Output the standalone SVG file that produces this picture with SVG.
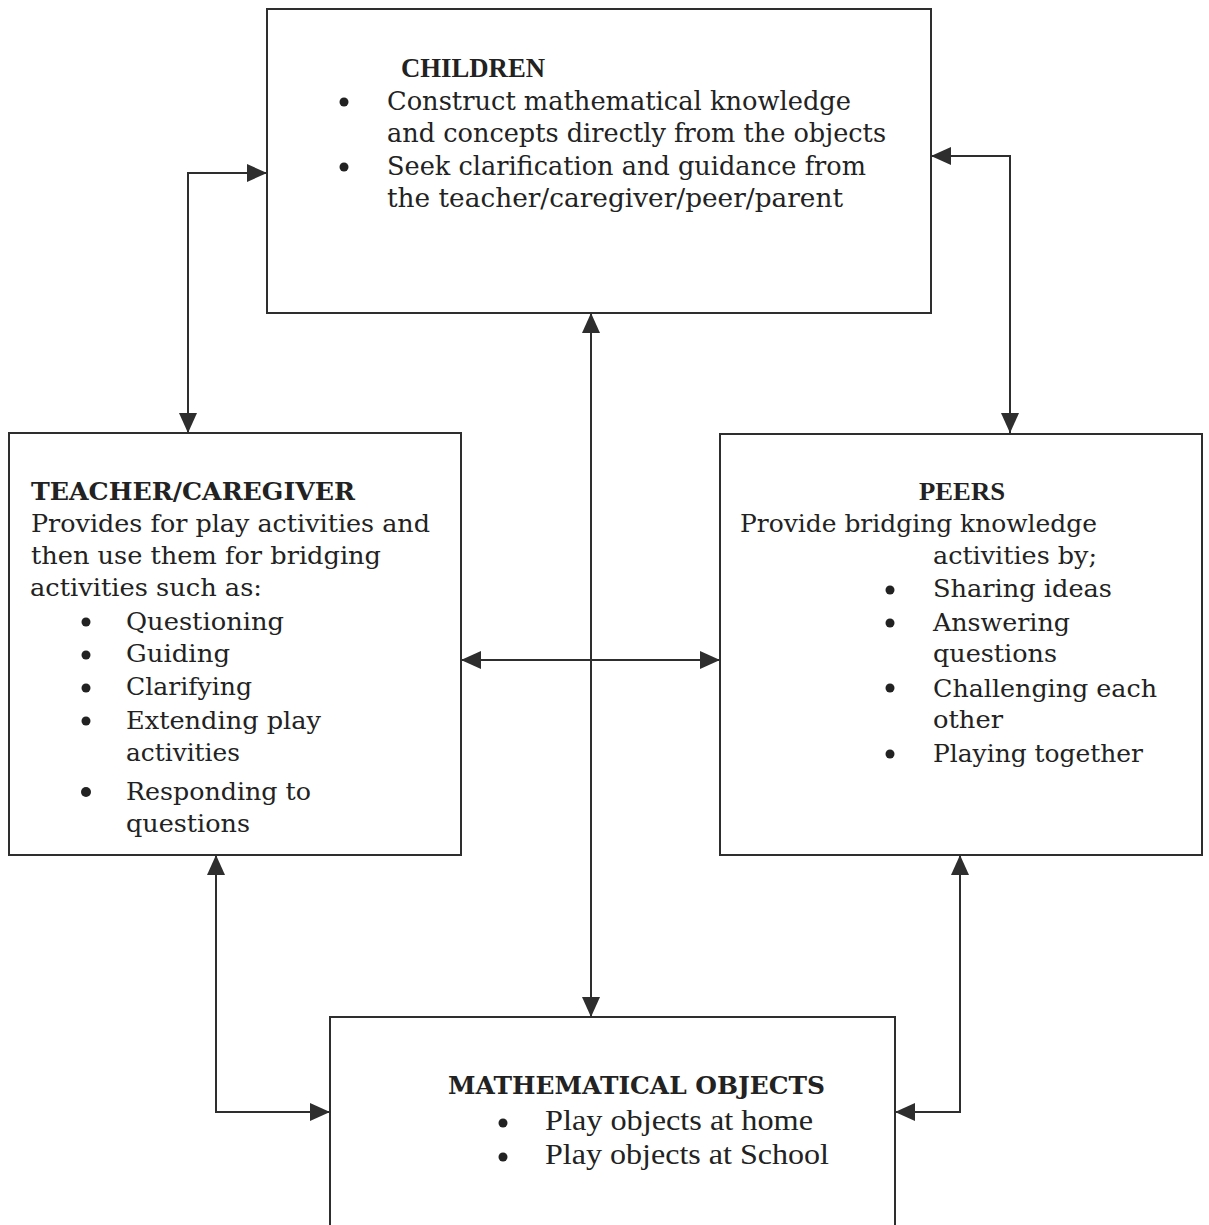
<svg xmlns="http://www.w3.org/2000/svg" width="1209" height="1225" viewBox="0 0 1209 1225">
<style>
.box{fill:#ffffff;stroke:#2e2e2e;stroke-width:2}
.con{fill:none;stroke:#2e2e2e;stroke-width:2}
.h{font-family:"DejaVu Serif","Liberation Serif",serif;font-weight:bold;fill:#222}
.ht{font-family:"Liberation Serif",serif;font-weight:bold;fill:#222}
.t{font-family:"DejaVu Serif","Liberation Serif",serif;fill:#222}
.c{font-size:26.5px}
.s{font-size:24.5px}
.m{font-family:"Liberation Serif",serif;font-size:29px;fill:#222}
.b{fill:#222}
</style>
<defs>
<marker id="ah" markerUnits="userSpaceOnUse" markerWidth="22" markerHeight="20" refX="20" refY="10" orient="auto-start-reverse" viewBox="0 0 22 20">
<path d="M0,1 L20,10 L0,19 z" fill="#2e2e2e"/>
</marker>
</defs>
<rect width="1209" height="1225" fill="#ffffff"/>
<g id="connectors">
<path class="con" d="M267,173 H188 V433" marker-start="url(#ah)" marker-end="url(#ah)"/>
<path class="con" d="M931,156 H1010 V433" marker-start="url(#ah)" marker-end="url(#ah)"/>
<path class="con" d="M591,313 V1017" marker-start="url(#ah)" marker-end="url(#ah)"/>
<path class="con" d="M461,660 H720" marker-start="url(#ah)" marker-end="url(#ah)"/>
<path class="con" d="M216,855 V1112 H330" marker-start="url(#ah)" marker-end="url(#ah)"/>
<path class="con" d="M960,855 V1112 H895" marker-start="url(#ah)" marker-end="url(#ah)"/>
</g>
<g id="children">
<rect class="box" x="267" y="9" width="664" height="304"/>
<text class="ht" x="401" y="77" font-size="27" textLength="144" lengthAdjust="spacingAndGlyphs">CHILDREN</text>
<circle class="b" cx="344" cy="102" r="4.5"/>
<circle class="b" cx="344" cy="167" r="4.5"/>
<text class="t c" x="387" y="110" textLength="464" lengthAdjust="spacingAndGlyphs">Construct mathematical knowledge</text>
<text class="t c" x="387" y="142" textLength="499" lengthAdjust="spacingAndGlyphs">and concepts directly from the objects</text>
<text class="t c" x="387" y="175" textLength="479" lengthAdjust="spacingAndGlyphs">Seek clarification and guidance from</text>
<text class="t c" x="387" y="207" textLength="456" lengthAdjust="spacingAndGlyphs">the teacher/caregiver/peer/parent</text>
</g>
<g id="teacher">
<rect class="box" x="9" y="433" width="452" height="422"/>
<text class="h" x="31" y="500" font-size="24" textLength="324" lengthAdjust="spacingAndGlyphs">TEACHER/CAREGIVER</text>
<text class="t s" x="31" y="532" textLength="399" lengthAdjust="spacingAndGlyphs">Provides for play activities and</text>
<text class="t s" x="31" y="564" textLength="350" lengthAdjust="spacingAndGlyphs">then use them for bridging</text>
<text class="t s" x="30" y="596" textLength="232" lengthAdjust="spacingAndGlyphs">activities such as:</text>
<circle class="b" cx="86" cy="622" r="4.5"/>
<circle class="b" cx="86" cy="655" r="4.5"/>
<circle class="b" cx="86" cy="688" r="4.5"/>
<circle class="b" cx="86" cy="721" r="4.5"/>
<circle class="b" cx="86" cy="792" r="5"/>
<text class="t s" x="126" y="630" textLength="158" lengthAdjust="spacingAndGlyphs">Questioning</text>
<text class="t s" x="126" y="662" textLength="104" lengthAdjust="spacingAndGlyphs">Guiding</text>
<text class="t s" x="126" y="695" textLength="126" lengthAdjust="spacingAndGlyphs">Clarifying</text>
<text class="t s" x="126" y="729" textLength="195" lengthAdjust="spacingAndGlyphs">Extending play</text>
<text class="t s" x="126" y="761" textLength="114" lengthAdjust="spacingAndGlyphs">activities</text>
<text class="t s" x="126" y="800" textLength="185" lengthAdjust="spacingAndGlyphs">Responding to</text>
<text class="t s" x="126" y="832" textLength="124" lengthAdjust="spacingAndGlyphs">questions</text>
</g>
<g id="peers">
<rect class="box" x="720" y="434" width="482" height="421"/>
<text class="ht" x="919" y="500" font-size="26" textLength="86" lengthAdjust="spacingAndGlyphs">PEERS</text>
<text class="t s" x="740" y="532" textLength="357" lengthAdjust="spacingAndGlyphs">Provide bridging knowledge</text>
<text class="t s" x="933" y="564" textLength="164" lengthAdjust="spacingAndGlyphs">activities by;</text>
<circle class="b" cx="890" cy="590" r="4.5"/>
<circle class="b" cx="890" cy="623" r="4.5"/>
<circle class="b" cx="890" cy="688" r="4.5"/>
<circle class="b" cx="890" cy="754" r="4.5"/>
<text class="t s" x="933" y="597" textLength="179" lengthAdjust="spacingAndGlyphs">Sharing ideas</text>
<text class="t s" x="933" y="631" textLength="137" lengthAdjust="spacingAndGlyphs">Answering</text>
<text class="t s" x="933" y="662" textLength="124" lengthAdjust="spacingAndGlyphs">questions</text>
<text class="t s" x="933" y="697" textLength="224" lengthAdjust="spacingAndGlyphs">Challenging each</text>
<text class="t s" x="933" y="728" textLength="70" lengthAdjust="spacingAndGlyphs">other</text>
<text class="t s" x="933" y="762" textLength="210" lengthAdjust="spacingAndGlyphs">Playing together</text>
</g>
<g id="math-objects">
<rect class="box" x="330" y="1017" width="565" height="220"/>
<text class="h" x="448" y="1094" font-size="24" textLength="377" lengthAdjust="spacingAndGlyphs">MATHEMATICAL OBJECTS</text>
<circle class="b" cx="503" cy="1123" r="4.5"/>
<circle class="b" cx="503" cy="1157" r="4.5"/>
<text class="m" x="545" y="1130" textLength="268" lengthAdjust="spacingAndGlyphs">Play objects at home</text>
<text class="m" x="545" y="1164" textLength="284" lengthAdjust="spacingAndGlyphs">Play objects at School</text>
</g>
</svg>
